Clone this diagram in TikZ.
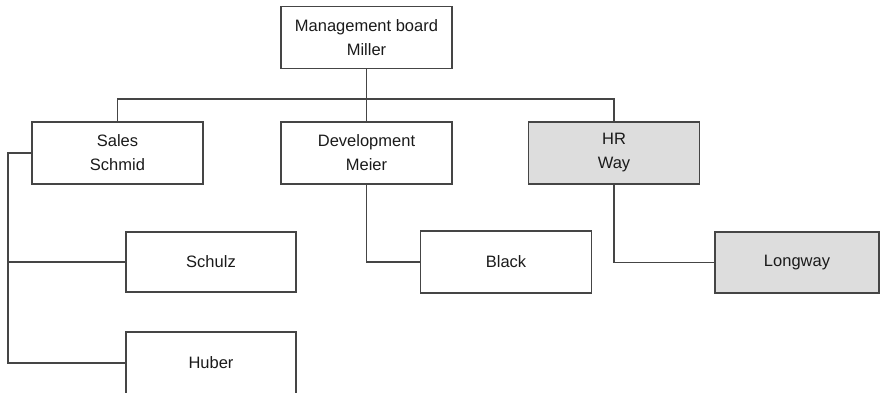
\documentclass[tikz,border=0pt]{standalone}
\usepackage{fontspec}
\setmainfont{Liberation Sans}
\definecolor{linec}{HTML}{454545}
\definecolor{boxgray}{HTML}{DDDDDD}
\definecolor{textc}{HTML}{1A1A1A}
\begin{document}
\begin{tikzpicture}[x=1pt,y=-1pt,
  box/.style={draw=linec,line width=1.7pt,minimum width=171pt,minimum height=62pt,inner sep=0pt,align=center,font=\fontsize{16.5}{24}\selectfont,text=textc},
  graybox/.style={box,fill=boxgray},
  conn/.style={draw=linec,line width=1.7pt}]
\useasboundingbox (0,0) rectangle (883,392);
\node[box] (mgmt) at (366.5,37.5) {Management board\\Miller};
\node[box] (sales) at (117.5,153) {Sales\\Schmid};
\node[box] (dev) at (366.5,153) {Development\\Meier};
\node[graybox] (hr) at (614,153) {HR\\Way};
\node[box,minimum width=170pt,minimum height=60pt] (schulz) at (211,262) {Schulz};
\node[box,minimum height=62pt] (black) at (506,262) {Black};
\node[graybox,minimum width=164pt,minimum height=61pt] (longway) at (797,262.5) {Longway};
\node[box,minimum width=170pt,minimum height=62pt] (huber) at (211,363) {Huber};
\coordinate (bus) at (366.5,99);
\coordinate (sl) at (8,153);
\draw[conn] (mgmt.south) -- (dev.north);
\draw[conn] (sales.north) |- (bus) -| (hr.north);
\draw[conn] (sales.west) -- (sl) |- (huber.west);
\draw[conn] (sl |- schulz.west) -- (schulz.west);
\draw[conn] (dev.south) |- (black.west);
\draw[conn] (hr.south) |- (longway.west);
\end{tikzpicture}
\end{document}
